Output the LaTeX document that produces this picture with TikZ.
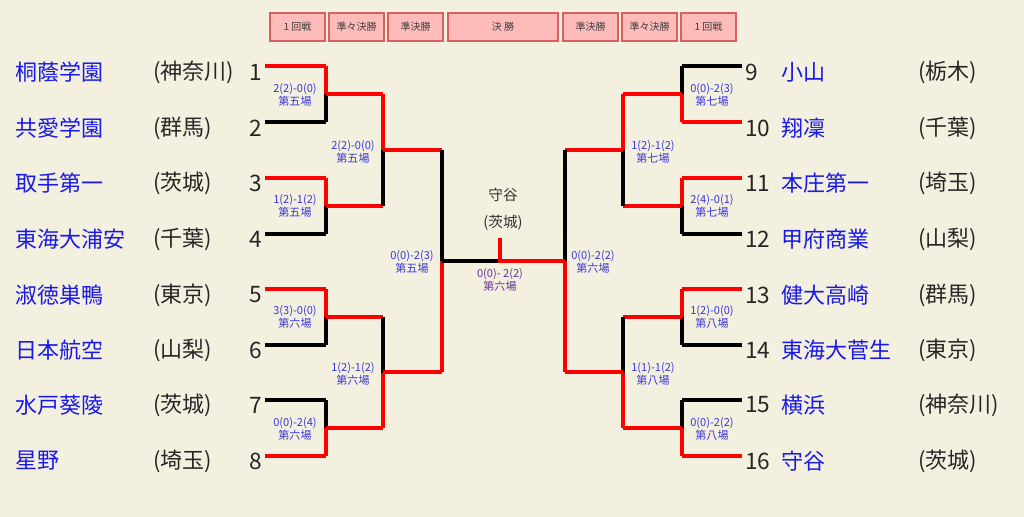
\documentclass[tikz,border=0pt]{standalone}
\usepackage{fontspec}
\setmainfont{Noto Sans CJK JP}
\definecolor{bg}{HTML}{F4F0E0}
\definecolor{lred}{HTML}{FF0000}
\definecolor{nblue}{HTML}{1A1AE6}
\definecolor{sblue}{HTML}{3838D8}
\definecolor{fpur}{HTML}{663399}
\definecolor{hfill}{HTML}{FFBABA}
\definecolor{hdraw}{HTML}{D86060}
\tikzset{
 ln/.style={line width=3pt, line join=miter},
 nm/.style={anchor=west, text=nblue, font=\fontsize{16.5}{18}\selectfont, inner sep=0},
 pf/.style={anchor=west, text=black!85, font=\fontsize{16.5}{18}\selectfont, inner sep=0},
 num/.style={text=black!85, font=\fontsize{17}{18}\selectfont, inner sep=0},
 sc/.style={text=sblue, font=\fontsize{8.3}{9.8}\selectfont, align=center, inner sep=0},
 hb/.style={draw=hdraw, fill=hfill, line width=1.2pt, font=\fontsize{7.5}{8}\selectfont, text=black!75, inner sep=0}
}
\newcommand\mym[8]{%
 \draw[#5,ln] (#1,#3) -- (#2,#3);
 \draw[#6,ln] (#2,#3) -- (#2,{(#3+#4)/2});
 \draw[#7,ln] (#1,#4) -- (#2,#4);
 \draw[#8,ln] (#2,#4) -- (#2,{(#3+#4)/2});}
\begin{document}
\begin{tikzpicture}[x=0.75pt,y=-0.75pt]
\fill[bg] (0,0) rectangle (1024,517);
\useasboundingbox (0,0) rectangle (1024,517);
% header
\foreach \a/\b/\t [count=\i] in {270/325/1\ 回戦,329/384/準々決勝,388/443/準決勝,448/558/決\ 勝,563/618/準決勝,622/677/準々決勝,681/736/1\ 回戦}
 \node[hb, minimum width={(\b-\a)*0.75pt}, minimum height=21pt] (h\i) at ({(\a+\b)/2},27) {\t};
% teams left
\foreach \n/\p/\y [count=\i] in {桐蔭学園/(神奈川)/72,共愛学園/(群馬)/128,取手第一/(茨城)/183,東海大浦安/(千葉)/239,淑徳巣鴨/(東京)/295,日本航空/(山梨)/350,水戸葵陵/(茨城)/405,星野/(埼玉)/461}{
 \node[nm] (n\i) at (15,\y) {\n};
 \node[pf] (p\i) at (153,\y) {\p};
 \node[num, anchor=east] (k\i) at (262,\y) {\i};}
\foreach \n/\p/\y [count=\j] in {小山/(栃木)/72,翔凜/(千葉)/128,本庄第一/(埼玉)/183,甲府商業/(山梨)/239,健大高崎/(群馬)/295,東海大菅生/(東京)/350,横浜/(神奈川)/405,守谷/(茨城)/461}{
 \pgfmathtruncatemacro\i{\j+8}
 \node[nm] (n\i) at (781,\y) {\n};
 \node[pf] (p\i) at (918,\y) {\p};
 \node[num, anchor=west] (k\i) at (745,\y) {\i};}
% left bracket
\mym{265}{326}{66}{122}{lred}{lred}{black}{black}
\mym{265}{326}{178}{234}{lred}{lred}{black}{black}
\mym{265}{326}{289}{345}{lred}{lred}{black}{black}
\mym{265}{326}{400}{456}{black}{black}{lred}{lred}
\mym{326}{383}{94}{206}{lred}{lred}{lred}{black}
\mym{326}{383}{317}{428}{lred}{black}{lred}{lred}
\mym{383}{442}{150}{372}{lred}{black}{lred}{lred}
% right bracket
\mym{742}{682}{66}{122}{black}{black}{lred}{lred}
\mym{742}{682}{178}{234}{lred}{lred}{black}{black}
\mym{742}{682}{289}{345}{lred}{lred}{black}{black}
\mym{742}{682}{400}{456}{black}{black}{lred}{lred}
\mym{682}{623}{94}{206}{lred}{lred}{lred}{black}
\mym{682}{623}{317}{428}{lred}{black}{lred}{lred}
\mym{623}{565}{150}{372}{lred}{black}{lred}{lred}
% final
\coordinate (fl) at (442,261); \coordinate (fm) at (500,261); \coordinate (fr) at (565,261); \coordinate (fc) at (500,238);
\draw[black,ln] (fl) -- (fm);
\draw[lred,ln] (fr) -- (fm) -- (fc);
\node[font=\fontsize{11}{12}\selectfont, text=black!80] (ch) at (503,195) {守谷};
\node[font=\fontsize{11}{12}\selectfont, text=black!80] (chp) at (503,223) {(茨城)};
\node[sc, text=fpur] (fs) at (500,280) {0(0)- 2(2)\\第六場};
% scores
\node[sc] at (295,95) {2(2)-0(0)\\第五場};
\node[sc] at (295,206) {1(2)-1(2)\\第五場};
\node[sc] at (295,317) {3(3)-0(0)\\第六場};
\node[sc] at (295,429) {0(0)-2(4)\\第六場};
\node[sc] at (353,152) {2(2)-0(0)\\第五場};
\node[sc] at (353,374) {1(2)-1(2)\\第六場};
\node[sc] at (412,262) {0(0)-2(3)\\第五場};
\node[sc] at (712,95) {0(0)-2(3)\\第七場};
\node[sc] at (712,206) {2(4)-0(1)\\第七場};
\node[sc] at (712,317) {1(2)-0(0)\\第八場};
\node[sc] at (712,429) {0(0)-2(2)\\第八場};
\node[sc] at (653,152) {1(2)-1(2)\\第七場};
\node[sc] at (653,374) {1(1)-1(2)\\第八場};
\node[sc] at (593,262) {0(0)-2(2)\\第六場};
\end{tikzpicture}
\end{document}
